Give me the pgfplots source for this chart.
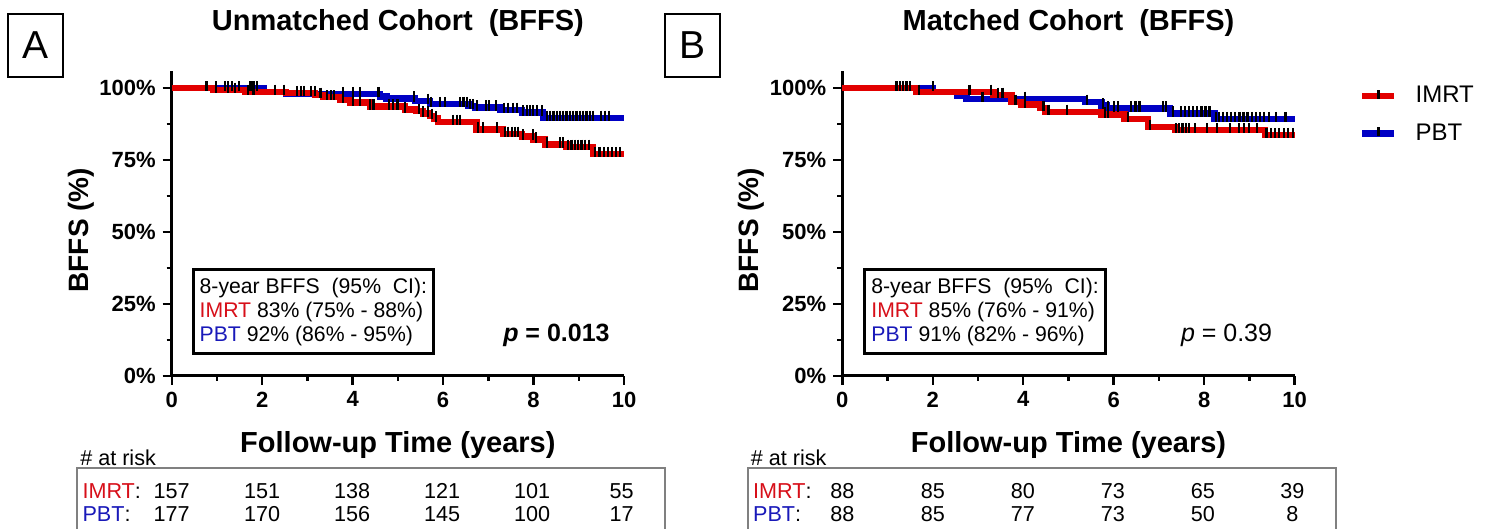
\documentclass[border=0pt]{standalone}
\usepackage{pgfplots}
\pgfplotsset{compat=1.18}
\usepackage{fontspec}
\setmainfont{Liberation Sans}
\definecolor{imrt}{RGB}{226,0,0}
\definecolor{pbt}{RGB}{0,0,196}
\definecolor{imrttxt}{RGB}{215,15,25}
\definecolor{pbttxt}{RGB}{25,25,185}
\pgfplotsset{
 kmaxis/.style={
  scale only axis, width=226.15pt, height=152.375pt,
  xmin=0,xmax=10,ymin=0,ymax=106,
  axis x line*=bottom, axis y line*=left,
  axis line style={line width=1.5pt,-},
  xtick={0,2,4,6,8,10}, minor xtick={1,3,5,7,9},
  ytick={0,25,50,75,100}, yticklabels={0\%,25\%,50\%,75\%,100\%},
  minor ytick={12.5,37.5,62.5,87.5},
  tick align=outside, major tick length=4.5pt, minor tick length=2.5pt,
  tick style={black,line width=1.2pt},
  /pgf/number format/assume math mode=true,
  tick label style={font=\bfseries\fontsize{11}{13}\selectfont},
  clip=false,
  xlabel style={at={(axis description cs:0.5,-0.2265)},anchor=center,font=\bfseries\fontsize{14.5}{17}\selectfont},
  ylabel style={at={(axis description cs:-0.2005,0.478)},anchor=center,font=\bfseries\fontsize{14}{17}\selectfont},
  xlabel={Follow-up Time (years)}, ylabel={BFFS (\%)},
 },
 curve/.style={const plot, line width=3.2pt, forget plot},
 cens/.style={only marks, mark=|, black, mark size=2.6pt, mark options={line width=1.1pt, yshift=1pt}, forget plot},
}
\newcommand{\fs}{\fontsize{10.8}{12}\selectfont}
\newcommand{\ttl}{\bfseries\fontsize{14.5}{17}\selectfont}
\begin{document}
\begin{tikzpicture}
\path[use as bounding box] (0pt,0pt) rectangle (743.5pt,264.5pt);
% panel labels
\node[draw, line width=0.75pt, minimum width=27.5pt, minimum height=31.5pt, inner sep=0pt, font=\fontsize{19.5}{20}\selectfont] at (17.75pt,241.75pt) {A};
\node[draw, line width=0.75pt, minimum width=27.5pt, minimum height=31.5pt, inner sep=0pt, font=\fontsize{19.5}{20}\selectfont] at (346.25pt,241.75pt) {B};

% ---------------- Panel A ----------------
\begin{axis}[kmaxis, at={(85.85pt,76.6pt)}, anchor=south west]
\addplot[curve, pbt] coordinates {(0,100) (2.03,98.8) (2.53,98.0) (4.61,97.2) (4.75,96.5) (5.38,95.6) (5.71,94.5) (6.56,93.8) (6.70,93.3) (7.26,92.5) (7.74,91.6) (8.21,89.7) (10,89.7)};
\addplot[curve, imrt] coordinates {(0,100) (0.92,99.4) (1.62,98.8) (2.53,98.3) (3.17,97.7) (3.35,96.9) (3.72,95.9) (3.94,95.1) (4.38,93.6) (5.16,92.6) (5.41,92.0) (5.56,91.3) (5.71,90.4) (5.80,89.5) (5.89,88.3) (6.74,85.6) (7.33,84.2) (7.74,83.3) (7.99,82.2) (8.25,80.4) (8.73,79.6) (9.32,77.1) (10,77.1)};
\addplot[cens] coordinates {(0.98,100) (1.18,100) (1.25,100) (1.33,100) (1.49,100) (1.74,100) (1.81,100) (1.89,100) (3.79,98.0) (4.01,98.0) (4.17,98.0) (4.57,98.0) (5.36,96.5) (5.67,95.6) (5.74,94.5) (5.93,94.5) (6.04,94.5) (6.37,94.5) (6.45,94.5) (6.52,94.5) (6.60,93.8) (6.67,93.8) (6.75,93.3) (6.95,93.3) (7.02,93.3) (7.17,93.3) (7.35,92.5) (7.44,92.5) (7.54,92.5) (7.63,92.5) (7.77,91.6) (7.85,91.6) (7.92,91.6) (7.99,91.6) (8.07,91.6) (8.18,91.6) (8.29,89.7) (8.36,89.7) (8.44,89.7) (8.51,89.7) (8.58,89.7) (8.66,89.7) (8.73,89.7) (8.80,89.7) (8.88,89.7) (8.95,89.7) (9.03,89.7) (9.10,89.7) (9.17,89.7) (9.25,89.7) (9.32,89.7) (9.50,89.7) (9.58,89.7) (9.67,89.7)};
\addplot[cens] coordinates {(0.77,100) (0.98,99.4) (1.25,99.4) (1.40,99.4) (1.68,98.8) (1.81,98.8) (2.29,98.8) (2.49,98.8) (2.77,98.3) (2.85,98.3) (2.92,98.3) (3.08,98.3) (3.16,98.3) (3.29,97.7) (3.43,96.9) (3.52,96.9) (3.58,96.9) (3.79,95.9) (4.01,95.1) (4.17,95.1) (4.38,93.6) (4.46,93.6) (4.81,93.6) (4.90,93.6) (4.99,93.6) (5.16,92.6) (5.47,92.0) (5.56,91.3) (5.67,91.3) (5.76,90.4) (5.85,89.5) (6.22,88.3) (6.30,88.3) (6.37,88.3) (6.78,85.6) (6.89,85.6) (7.19,85.6) (7.37,84.2) (7.44,84.2) (7.52,84.2) (7.59,84.2) (7.66,84.2) (7.77,83.3) (7.98,83.3) (8.06,82.2) (8.29,80.4) (8.58,80.4) (8.66,80.4) (8.77,79.6) (8.84,79.6) (8.92,79.6) (8.99,79.6) (9.06,79.6) (9.14,79.6) (9.22,79.6) (9.36,77.1) (9.46,77.1) (9.55,77.1) (9.64,77.1) (9.73,77.1) (9.83,77.1) (9.92,77.1)};
\node[font=\ttl] at (axis description cs:0.5,1.1575) {Unmatched Cohort\hspace{0.55em}(BFFS)};
\node[draw, line width=1.5pt, anchor=south west, align=left, inner xsep=3.3pt, inner ysep=4pt, font=\fontsize{10.6}{12}\selectfont] at (axis cs:0.44,7.2)
 {8-year BFFS\ \ (95\%\ \ CI):\\ \textcolor{imrttxt}{IMRT} 83\% (75\% - 88\%)\\ \textcolor{pbttxt}{PBT} 92\% (86\% - 95\%)};
\node[anchor=east, inner sep=0pt, font=\bfseries\fontsize{12.5}{14}\selectfont] at (axis cs:9.69,14.2) {\textit{p} = 0.013};
% at risk table
\node[anchor=west, inner sep=0pt, font=\fs] at (axis cs:-2.03,-28.6) {\# at risk};
\draw[gray, line width=0.75pt] (axis cs:-2.09,-70) rectangle (axis cs:10.91,-32.1);
\node[anchor=west, inner sep=0pt, font=\fs] at (axis cs:-1.98,-40.0) {\textcolor{imrttxt}{IMRT}:};
\node[anchor=west, inner sep=0pt, font=\fs] at (axis cs:-1.98,-48.2) {\textcolor{pbttxt}{PBT}:};
\node[font=\fs] at (axis cs:0,-40.0) {157};
\node[font=\fs] at (axis cs:2.0,-40.0) {151};
\node[font=\fs] at (axis cs:3.99,-40.0) {138};
\node[font=\fs] at (axis cs:5.98,-40.0) {121};
\node[font=\fs] at (axis cs:7.97,-40.0) {101};
\node[font=\fs] at (axis cs:9.95,-40.0) {55};
\node[font=\fs] at (axis cs:0,-48.2) {177};
\node[font=\fs] at (axis cs:2.0,-48.2) {170};
\node[font=\fs] at (axis cs:3.99,-48.2) {156};
\node[font=\fs] at (axis cs:5.98,-48.2) {145};
\node[font=\fs] at (axis cs:7.97,-48.2) {100};
\node[font=\fs] at (axis cs:9.95,-48.2) {17};
\end{axis}

% ---------------- Panel B ----------------
\begin{axis}[kmaxis, at={(421.15pt,76.6pt)}, anchor=south west,
  legend image code/.code={\draw[#1,line width=3.2pt] (0pt,0pt) -- (16pt,0pt); \draw[black,line width=1.2pt] (8pt,-1.5pt) -- (8pt,3pt);},
  legend style={at={(axis description cs:1.142,0.952)}, anchor=north west, draw=none, fill=none, inner sep=0pt, row sep=9pt, column sep=9pt, font=\fontsize{12}{14}\selectfont, nodes={inner sep=0pt}, legend cell align=left}]
\addlegendimage{imrt}
\addlegendentry{IMRT}
\addlegendimage{pbt}
\addlegendentry{PBT}
\addplot[curve, pbt] coordinates {(0,100) (2.01,98.8) (2.53,97.4) (2.75,96.3) (5.36,95.3) (5.73,94.0) (5.84,93.0) (7.24,91.2) (8.23,89.3) (10,89.3)};
\addplot[curve, imrt] coordinates {(0,100) (1.64,98.8) (3.34,97.7) (3.74,95.3) (3.96,94.4) (4.37,93.2) (4.48,91.8) (5.73,90.9) (6.24,89.3) (6.76,86.6) (7.35,85.4) (9.34,83.7) (10,83.7)};
\addplot[cens] coordinates {(1.42,100) (1.49,100) (2.01,100) (3.10,96.3) (4.04,96.3) (5.41,95.3) (5.76,94.0) (5.88,93.0) (6.00,93.0) (6.10,93.0) (6.39,93.0) (6.48,93.0) (6.57,93.0) (7.09,93.0) (7.16,93.0) (7.31,91.2) (7.49,91.2) (7.58,91.2) (7.67,91.2) (7.76,91.2) (7.85,91.2) (7.94,91.2) (8.03,91.2) (8.12,91.2) (8.26,89.3) (8.33,89.3) (8.42,89.3) (8.51,89.3) (8.60,89.3) (8.69,89.3) (8.78,89.3) (8.87,89.3) (8.96,89.3) (9.05,89.3) (9.14,89.3) (9.23,89.3) (9.32,89.3) (9.44,89.3) (9.59,89.3) (9.80,89.3)};
\addplot[cens] coordinates {(1.20,100) (1.27,100) (1.35,100) (1.70,98.8) (2.81,98.8) (3.29,98.8) (3.45,97.7) (3.54,97.7) (3.83,95.3) (4.04,94.4) (4.45,93.2) (4.56,91.8) (4.96,91.8) (5.80,90.9) (5.88,90.9) (6.32,89.3) (6.80,86.6) (7.38,85.4) (7.45,85.4) (7.52,85.4) (7.59,85.4) (7.66,85.4) (7.79,85.4) (8.07,85.4) (8.29,85.4) (8.58,85.4) (8.77,85.4) (8.88,85.4) (8.99,85.4) (9.16,85.4) (9.38,83.7) (9.48,83.7) (9.57,83.7) (9.66,83.7) (9.76,83.7) (9.85,83.7) (9.96,83.7)};
\node[font=\ttl] at (axis description cs:0.5,1.1575) {Matched Cohort\hspace{0.55em}(BFFS)};
\node[draw, line width=1.5pt, anchor=south west, align=left, inner xsep=3.3pt, inner ysep=4pt, font=\fontsize{10.6}{12}\selectfont] at (axis cs:0.464,7.2)
 {8-year BFFS\ \ (95\%\ \ CI):\\ \textcolor{imrttxt}{IMRT} 85\% (76\% - 91\%)\\ \textcolor{pbttxt}{PBT} 91\% (82\% - 96\%)};
\node[anchor=east, inner sep=0pt, font=\fontsize{12.5}{14}\selectfont] at (axis cs:9.51,14.2) {\textit{p} = 0.39};
\node[anchor=west, inner sep=0pt, font=\fs] at (axis cs:-2.03,-28.6) {\# at risk};
\draw[gray, line width=0.75pt] (axis cs:-2.09,-70) rectangle (axis cs:10.91,-32.1);
\node[anchor=west, inner sep=0pt, font=\fs] at (axis cs:-1.98,-40.0) {\textcolor{imrttxt}{IMRT}:};
\node[anchor=west, inner sep=0pt, font=\fs] at (axis cs:-1.98,-48.2) {\textcolor{pbttxt}{PBT}:};
\node[font=\fs] at (axis cs:0,-40.0) {88};
\node[font=\fs] at (axis cs:2.0,-40.0) {85};
\node[font=\fs] at (axis cs:3.99,-40.0) {80};
\node[font=\fs] at (axis cs:5.98,-40.0) {73};
\node[font=\fs] at (axis cs:7.97,-40.0) {65};
\node[font=\fs] at (axis cs:9.95,-40.0) {39};
\node[font=\fs] at (axis cs:0,-48.2) {88};
\node[font=\fs] at (axis cs:2.0,-48.2) {85};
\node[font=\fs] at (axis cs:3.99,-48.2) {77};
\node[font=\fs] at (axis cs:5.98,-48.2) {73};
\node[font=\fs] at (axis cs:7.97,-48.2) {50};
\node[font=\fs] at (axis cs:9.95,-48.2) {8};
\end{axis}
\end{tikzpicture}
\end{document}
